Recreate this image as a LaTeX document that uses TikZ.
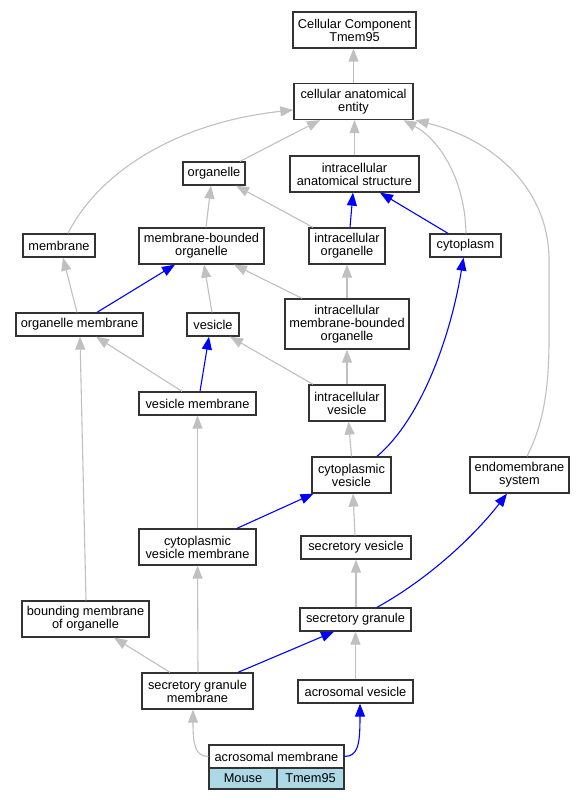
\documentclass[tikz,border=0pt]{standalone}
\usepackage{fontspec}
\setmainfont{Liberation Sans}
\usetikzlibrary{arrows.meta}
\definecolor{edgegray}{HTML}{C0C0C0}
\definecolor{lblue}{HTML}{ADD8E6}
\begin{document}
\begin{tikzpicture}[x=1pt,y=-1pt,
  box/.style={draw=black!80, line width=1.3pt, fill=white, inner sep=0pt, align=center,
    font=\fontsize{12.8}{13}\selectfont},
  wh/.style 2 args={minimum width=#1pt, minimum height=#2pt},
  g/.style={draw=edgegray, line width=1.1pt, -{Triangle[length=13pt,width=10pt]}},
  b/.style={draw=blue, line width=1.1pt, -{Triangle[length=13pt,width=10pt]}}]
\useasboundingbox (0,0) rectangle (585,800);
\fill[white] (0,0) rectangle (585,800);
% nodes
\node[box, wh={123}{36}] (cc) at (354.5,30) {Cellular Component\\Tmem95};
\node[box, wh={119}{36}] (cae) at (353.5,101.5) {cellular anatomical\\entity};
\node[box, wh={62}{23}] (org) at (214,173.5) {organelle};
\node[box, wh={129}{36}] (ias) at (354.5,174) {intracellular\\anatomical structure};
\node[box, wh={72}{23}] (mem) at (59,245.5) {membrane};
\node[box, wh={125}{36}] (mbo) at (201.5,246) {membrane-bounded\\organelle};
\node[box, wh={76}{36}] (io) at (347,246) {intracellular\\organelle};
\node[box, wh={71}{23}] (cyt) at (465.5,245.5) {cytoplasm};
\node[box, wh={127}{23}] (om) at (79.5,324.5) {organelle membrane};
\node[box, wh={52}{23}] (ves) at (213,324.5) {vesicle};
\node[box, wh={124}{50}] (imbo) at (347,324) {intracellular\\membrane-bounded\\organelle};
\node[box, wh={117}{23}] (vm) at (197.5,403.5) {vesicle membrane};
\node[box, wh={76}{36}] (iv) at (347,403) {intracellular\\vesicle};
\node[box, wh={79}{36}] (cv) at (351.5,475) {cytoplasmic\\vesicle};
\node[box, wh={99}{36}] (es) at (519.5,475) {endomembrane\\system};
\node[box, wh={117}{36}] (cvm) at (197.5,547) {cytoplasmic\\vesicle membrane};
\node[box, wh={110}{23}] (sv) at (356,547.5) {secretory vesicle};
\node[box, wh={127}{36}] (bmo) at (85.5,619) {bounding membrane\\of organelle};
\node[box, wh={111}{23}] (sg) at (355.5,619.5) {secretory granule};
\node[box, wh={111}{36}] (sgm) at (197.5,691) {secretory granule\\membrane};
\node[box, wh={115}{23}] (av) at (355.5,691.5) {acrosomal vesicle};
\node[box, wh={135}{23}] (am) at (276.5,756.5) {acrosomal membrane};
\node[box, fill=lblue, wh={68}{21}] (mouse) at (243,778.5) {Mouse};
\node[box, fill=lblue, wh={67}{21}] (tm) at (310.5,778.5) {Tmem95};
% edges
\draw[g] (cae.north) -- (cae.north |- cc.south);
\draw[g] ([xshift=26]org.north) -- ([xshift=-33.5]cae.south);
\draw[g] (ias.north) -- (ias.north |- cae.south);
\draw[g] ([xshift=9]mem.north) .. controls (100,170) and (180,122) .. ([yshift=-8.5]cae.west);
\draw[g] ([xshift=0.5]cyt.north) .. controls (465,180) and (440,140) .. ([xshift=50]cae.south);
\draw[g] ([xshift=7.5]es.north) .. controls (540,430) and (549,400) .. (549,340) -- (549,260)
   .. controls (549,190) and (495,140) .. ([xshift=62]cae.south);
\draw[g] ([xshift=4.5]mbo.north) -- ([xshift=-3]org.south);
\draw[g] ([xshift=-34]io.north) -- ([xshift=22]org.south);
\draw[b] ([xshift=3]io.north) -- ([xshift=-1.5]ias.south);
\draw[b] ([xshift=-17.5]cyt.north) -- ([xshift=25.5]ias.south);
\draw[g] ([xshift=-2.5]om.north) -- ([xshift=4]mem.south);
\draw[b] ([xshift=17.5]om.north) -- ([xshift=-26.5]mbo.south);
\draw[g] ([xshift=-1]ves.north) -- ([xshift=2.5]mbo.south);
\draw[g] ([xshift=-45]imbo.north) -- ([xshift=32.5]mbo.south);
\draw[g] (imbo.north) -- (io.south);
\draw[g] ([xshift=-15.5]vm.north) -- ([xshift=16.5]om.south);
\draw[b] ([xshift=2.5]vm.north) -- ([xshift=-4]ves.south);
\draw[g] ([xshift=-34]iv.north) -- ([xshift=17]ves.south);
\draw[g] (iv.north) -- (imbo.south);
\draw[g] (cv.north) -- ([xshift=1.5]iv.south);
\draw[b] ([xshift=25.5]cv.north) .. controls (420,420) and (450,340) .. ([xshift=-2]cyt.south);
\draw[g] ([xshift=0.5]bmo.north) -- ([xshift=0.5]om.south);
\draw[g] (cvm.north) -- (vm.south);
\draw[b] ([xshift=39.5]cvm.north) -- ([xshift=-38]cv.south);
\draw[g] ([xshift=-1]sv.north) -- ([xshift=1.5]cv.south);
\draw[g] ([xshift=0.5]sg.north) -- (sv.south);
\draw[b] ([xshift=21.5]sg.north) .. controls (430,578) and (475,535) .. ([xshift=-12.5]es.south);
\draw[g] ([xshift=-27.5]sgm.north) -- ([xshift=28.5]bmo.south);
\draw[g] ([xshift=0.5]sgm.north) -- (cvm.south);
\draw[b] ([xshift=40.5]sgm.north) -- ([xshift=-21.5]sg.south);
\draw[g] (av.north) -- (sg.south);
\draw[g] (am.west) .. controls (195,756) and (193,745) .. ([xshift=-4.5]sgm.south);
\draw[b] (am.east) .. controls (358,756) and (360,745) .. ([xshift=4.5]av.south);
\end{tikzpicture}
\end{document}
